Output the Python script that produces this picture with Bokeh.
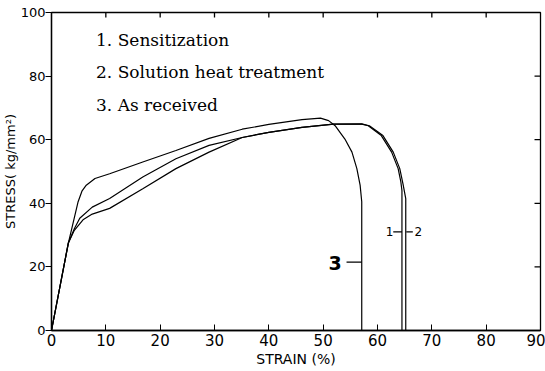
import math
from bokeh.plotting import figure
from bokeh.models import FixedTicker, Range1d, Title
from bokeh.core.properties import value
from bokeh.embed import file_html
from bokeh.resources import INLINE

# ---- data ----
# Curve 3: As received
strain_3 = [0, 3.1, 4.0, 4.9, 5.6, 6.4, 8.0, 10.7, 16.8, 22.9, 29.0, 35.1, 40.0, 46.1, 49.5, 51.0, 52.2, 54.0, 55.3, 56.2, 56.8, 57.1, 57.1, 57.1]
stress_3 = [0, 27.5, 34.0, 40.5, 43.8, 45.7, 47.8, 49.3, 53.0, 56.6, 60.4, 63.3, 64.8, 66.3, 66.8, 66.0, 64.4, 60.2, 56.1, 50.9, 45.7, 40.5, 30.0, 0]
# Curve 1: Sensitization
strain_1 = [0, 3.1, 4.2, 5.2, 7.5, 10.7, 16.8, 22.9, 29.0, 35.1, 40.0, 46.1, 51.9, 57.1, 58.3, 60.7, 62.6, 63.8, 64.3, 64.5, 64.5]
stress_1 = [0, 27.5, 32.0, 35.3, 38.8, 41.5, 48.3, 54.0, 58.2, 60.7, 62.3, 63.9, 64.9, 64.9, 64.4, 61.3, 56.1, 50.9, 46.7, 44.0, 0]
# Curve 2: Solution heat treatment
strain_2 = [0, 3.1, 4.2, 5.8, 7.5, 10.7, 16.8, 22.9, 29.0, 35.1, 40.0, 46.1, 51.9, 57.1, 58.5, 61.0, 62.9, 64.1, 64.7, 65.2, 65.2]
stress_2 = [0, 27.5, 31.5, 34.8, 36.6, 38.4, 44.6, 50.9, 56.1, 60.7, 62.3, 63.9, 64.9, 65.0, 64.4, 61.3, 56.1, 50.9, 46.0, 41.5, 0]

legend_labels = ["1. Sensitization", "2. Solution heat treatment", "3. As received"]
x_ticks = [0, 10, 20, 30, 40, 50, 60, 70, 80, 90]
y_ticks = [0, 20, 40, 60, 80, 100]
right_ticks = [20, 40, 60, 80]
top_ticks = [10, 20, 30, 40, 50, 60, 70, 80]

X_MIN, X_MAX, Y_MIN, Y_MAX = 0, 90, 0, 100
TICK_DX, TICK_DY = 1.1, 1.6   # inward tick lengths in data units (~6 px / ~5 px)

# ---- figure ----
p = figure(width=545, height=371, x_range=Range1d(X_MIN, X_MAX), y_range=Range1d(Y_MIN, Y_MAX),
           output_backend="svg", toolbar_location=None,
           min_border_left=46, min_border_right=5, min_border_top=12, min_border_bottom=41,
           background_fill_color="white", border_fill_color="white")
p.grid.visible = False
p.outline_line_color = "black"
p.outline_line_width = 1.3

xa = p.xaxis[0]
xa.ticker = FixedTicker(ticks=x_ticks)
xa.major_tick_in = 6
xa.major_tick_out = 0
xa.minor_tick_line_color = None
xa.axis_line_color = "black"
xa.axis_line_width = 1.3
xa.major_label_text_font = "DejaVu Sans"
xa.major_label_text_font_size = "15px"
xa.major_label_text_color = "black"
xa.major_label_standoff = 3

ya = p.yaxis[0]
ya.ticker = FixedTicker(ticks=y_ticks)
ya.major_tick_in = 0
ya.major_tick_out = 6
ya.minor_tick_line_color = None
ya.axis_line_color = "black"
ya.axis_line_width = 1.3
ya.major_label_text_font = "DejaVu Sans"
ya.major_label_text_font_size = "13px"
ya.major_label_text_color = "black"
ya.major_label_standoff = 0

# inward ticks on the right and top frame edges
p.segment(x0=[X_MAX] * len(right_ticks), y0=right_ticks,
          x1=[X_MAX - TICK_DX] * len(right_ticks), y1=right_ticks,
          line_color="black", line_width=1.3)
p.segment(x0=top_ticks, y0=[Y_MAX] * len(top_ticks),
          x1=top_ticks, y1=[Y_MAX - TICK_DY] * len(top_ticks),
          line_color="black", line_width=1.3)

# ---- curves ----
for xs, ys in [(strain_3, stress_3), (strain_1, stress_1), (strain_2, stress_2)]:
    p.line(xs, ys, line_color="black", line_width=1.2)

# ---- legend text ----
leg_x = 8.2
leg_y = [91.4, 81.3, 70.8]
p.text(x=[leg_x] * 3, y=leg_y, text=legend_labels, text_font=value("DejaVu Serif"),
       text_font_size="17px", text_color="black", text_align="left", text_baseline="middle")

# ---- curve number labels with leader lines ----
p.text(x=[52.2], y=[21.3], text=["3"], text_font=value("DejaVu Sans"), text_font_style="bold",
       text_font_size="19px", text_color="black", text_align="center", text_baseline="middle")
p.segment(x0=[54.3, 62.9, 65.3], y0=[21.5, 31.0, 31.0], x1=[57.1, 64.5, 66.5], y1=[21.5, 31.0, 31.0],
          line_color="black", line_width=1.1)
p.text(x=[62.2, 67.5], y=[31.0, 31.0], text=["1", "2"], text_font=value("DejaVu Sans"),
       text_font_size="12px", text_color="black", text_align="center", text_baseline="middle")

# ---- axis titles (as titles so they can be offset like the reference) ----
p.add_layout(Title(text="STRAIN (%)", align="center", offset=-33, standoff=0,
                   text_font="DejaVu Sans", text_font_size="14px", text_font_style="normal",
                   text_color="black"), "below")
p.add_layout(Title(text="STRESS( kg/mm²)", align="center", offset=22, standoff=0,
                   text_font="DejaVu Sans", text_font_size="13px", text_font_style="normal",
                   text_color="black"), "left")

open("out.html", "w").write(file_html(p, INLINE))
